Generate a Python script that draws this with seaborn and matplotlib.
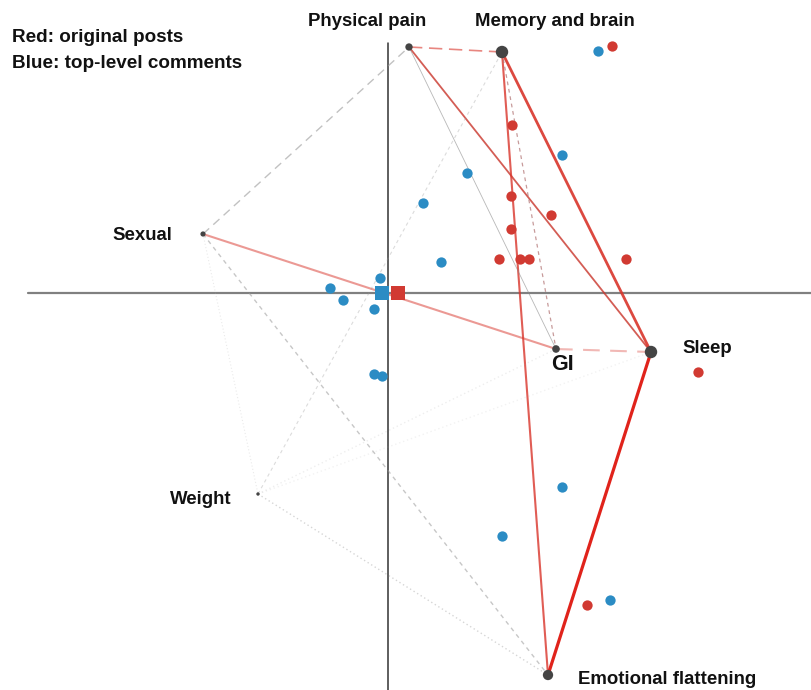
import matplotlib
matplotlib.use("Agg")
import matplotlib.pyplot as plt
import seaborn as sns
import pandas as pd

sns.set_theme(style="white")
plt.rcParams['font.family'] = ['Liberation Sans', 'DejaVu Sans']

# ---- data (arbitrary biplot units, origin at the axis crossing) ----
node_names = ["Physical pain", "Memory and brain", "Sexual", "Sleep", "GI",
              "Weight", "Emotional flattening"]
node_x = [0.21, 1.14, -1.85, 2.63, 1.68, -1.30, 1.60]
node_y = [2.46, 2.41, 0.59, -0.59, -0.56, -2.01, -3.82]
node_size = [28, 80, 14, 80, 30, 6, 55]

red_x = [2.24, 1.24, 1.23, 1.63, 1.23, 1.11, 1.32, 1.41, 2.38, 3.10, 1.99]
red_y = [2.47, 1.68, 0.97, 0.78, 0.64, 0.34, 0.34, 0.34, 0.34, -0.79, -3.12]
blue_x = [2.10, 1.74, 0.79, 0.35, 0.53, -0.08, -0.58, -0.45, -0.14,
          -0.14, -0.06, 1.74, 1.14, 2.22]
blue_y = [2.42, 1.38, 1.20, 0.90, 0.31, 0.15, 0.05, -0.07, -0.16,
          -0.81, -0.83, -1.94, -2.43, -3.07]
centroid_x = [-0.06, 0.10]   # blue, red
centroid_y = [0.0, 0.0]

edge_src = ["Physical pain", "Physical pain", "Memory and brain", "Memory and brain",
            "Sleep", "Sexual", "GI", "Memory and brain", "Physical pain",
            "Sexual", "Sexual", "Weight", "Weight", "Sexual", "Weight", "Weight"]
edge_dst = ["Memory and brain", "Sleep", "Sleep", "Emotional flattening",
            "Emotional flattening", "GI", "Sleep", "GI", "GI",
            "Physical pain", "Emotional flattening", "Emotional flattening",
            "Memory and brain", "Weight", "GI", "Sleep"]

# label anchor positions (data units) and alignment
label_x = [-0.21, 1.67, -2.16, 2.94, 1.74, -1.56, 1.90]
label_y = [2.72, 2.71, 0.57, -0.56, -0.72, -2.07, -3.87]
label_ha = ["center", "center", "right", "left", "center", "right", "left"]

# ---- styles ----
edge_style = [
    dict(color="#d9352b", lw=1.2, alpha=0.6, dashes=(8, 4)),
    dict(color="#c9352b", lw=1.3, alpha=0.8),
    dict(color="#d9352b", lw=2.0, alpha=0.9),
    dict(color="#d9352b", lw=1.5, alpha=0.8),
    dict(color="#e0231b", lw=2.3, alpha=1.0),
    dict(color="#d9352b", lw=1.5, alpha=0.5),
    dict(color="#d9352b", lw=1.5, alpha=0.35, dashes=(8, 5)),
    dict(color="#b07070", lw=0.9, alpha=0.7, dashes=(3, 3)),
    dict(color="#888888", lw=0.6, alpha=0.6),
    dict(color="#999999", lw=1.0, alpha=0.6, dashes=(6, 4)),
    dict(color="#999999", lw=1.0, alpha=0.55, dashes=(3, 3)),
    dict(color="#999999", lw=1.0, alpha=0.4, dashes=(1, 2)),
    dict(color="#999999", lw=0.8, alpha=0.35, dashes=(3, 3)),
    dict(color="#aaaaaa", lw=0.8, alpha=0.25, dashes=(1, 2)),
    dict(color="#aaaaaa", lw=1.0, alpha=0.2, dashes=(1, 2)),
    dict(color="#aaaaaa", lw=1.0, alpha=0.15, dashes=(1, 2)),
]

pos = {n: (x, y) for n, x, y in zip(node_names, node_x, node_y)}

fig = plt.figure(figsize=(8.12, 6.90), dpi=100)
ax = fig.add_axes([0, 0, 1, 1])
ax.set_xlim(-3.88, 4.24)
ax.set_ylim(-3.97, 2.93)
ax.axis("off")

# axes cross
ax.plot([-3.60, 4.24], [0, 0], color="#808080", lw=1.6, zorder=1)
ax.plot([0, 0], [2.50, -3.97], color="#333333", lw=1.1, zorder=1)

# edges
for s, d, st in zip(edge_src, edge_dst, edge_style):
    st = dict(st)
    dashes = st.pop("dashes", None)
    line, = ax.plot([pos[s][0], pos[d][0]], [pos[s][1], pos[d][1]],
                    solid_capstyle="butt", zorder=2, **st)
    if dashes:
        line.set_dashes(dashes)

# points
sns.scatterplot(x=blue_x, y=blue_y, color="#2b8cc4", s=55, linewidth=0, ax=ax, zorder=4)
sns.scatterplot(x=red_x, y=red_y, color="#d13a32", s=55, linewidth=0, ax=ax, zorder=4)
sns.scatterplot(x=centroid_x[:1], y=centroid_y[:1], color="#2b8cc4", marker="s",
                s=105, linewidth=0, ax=ax, zorder=5)
sns.scatterplot(x=centroid_x[1:], y=centroid_y[1:], color="#d13a32", marker="s",
                s=105, linewidth=0, ax=ax, zorder=6)
nodes = pd.DataFrame({"x": node_x, "y": node_y, "s": node_size})
ax.scatter(nodes["x"], nodes["y"], s=nodes["s"], color="#444444", linewidth=0, zorder=7)

# labels
for name, lx, ly, ha in zip(node_names, label_x, label_y, label_ha):
    fs = 15.5 if name == "GI" else 13.4
    ax.text(lx, ly, name, ha=ha, va="center", fontsize=fs, fontweight="bold",
            color="#111111", zorder=8)

fig.text(12 / 812, 1 - 38 / 690, "Red: original posts", fontsize=13.6, fontweight="bold",
         color="#111111", va="center", ha="left")
fig.text(12 / 812, 1 - 64 / 690, "Blue: top-level comments", fontsize=13.6, fontweight="bold",
         color="#111111", va="center", ha="left")

fig.savefig("out.png", dpi=100)
